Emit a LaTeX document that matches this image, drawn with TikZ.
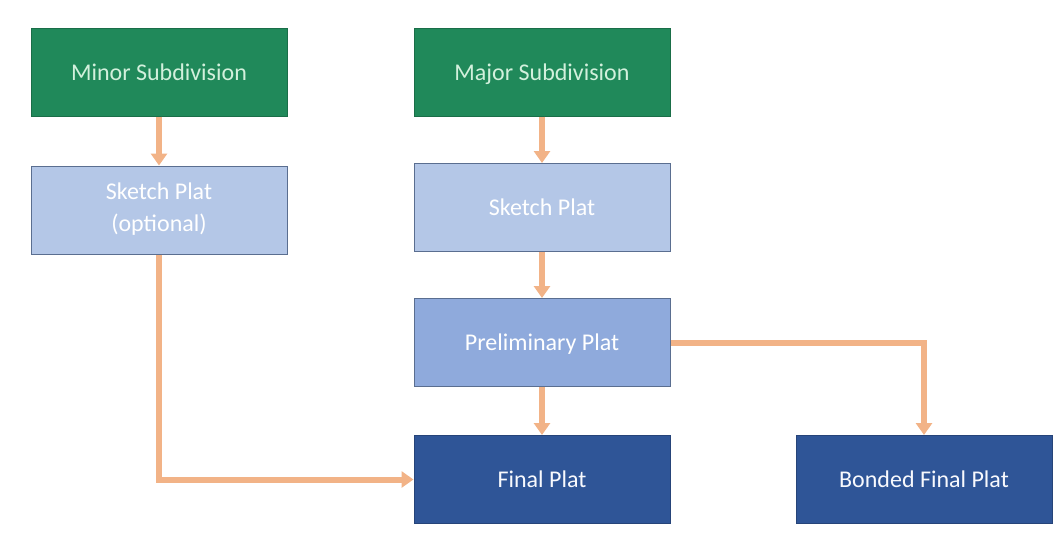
\documentclass[tikz,border=0pt]{standalone}
\usepackage{fontspec}
\setmainfont{Carlito}
\usetikzlibrary{arrows.meta}
\newcommand\boxstrut{\rule[-6pt]{0pt}{28pt}}
\definecolor{grn}{HTML}{20895A}
\definecolor{grnb}{HTML}{1A6E48}
\definecolor{grntxt}{HTML}{D2F0DC}
\definecolor{lblue}{HTML}{B4C7E7}
\definecolor{mblue}{HTML}{8FAADC}
\definecolor{dblue}{HTML}{2F5597}
\definecolor{bord}{HTML}{5A6E90}
\definecolor{arr}{HTML}{F2B387}
\tikzset{
  box/.style={draw=bord, line width=1pt, minimum width=256pt, minimum height=88pt, inner sep=0pt, align=center, font=\fontsize{24}{32}\selectfont, execute at begin node=\boxstrut},
  greenbox/.style={box, fill=grn, draw=grnb, text=grntxt},
  lightbox/.style={box, fill=lblue, text=white},
  midbox/.style={box, fill=mblue, text=white},
  darkbox/.style={box, fill=dblue, draw=dblue!80!black, text=white!90!lblue},
  conn/.style={draw=arr, line width=6pt, -{Triangle[width=16pt,length=12pt]}}
}
\begin{document}
\begin{tikzpicture}[x=1pt,y=-1pt]
\useasboundingbox (0,0) rectangle (1062,536);
\node[greenbox] (minor) at (159,72) {Minor Subdivision};
\node[greenbox] (major) at (542,72) {Major Subdivision};
\node[lightbox] (sk1) at (159,210) {Sketch Plat\\(optional)\boxstrut};
\node[lightbox] (sk2) at (542,207.5) {Sketch Plat};
\node[midbox] (pre) at (542,342.5) {Preliminary Plat};
\node[darkbox] (fin) at (542,479.5) {Final Plat};
\node[darkbox] (bond) at (924,479.5) {Bonded Final Plat};
\draw[conn] (minor) -- (sk1);
\draw[conn] (major) -- (sk2);
\draw[conn] (sk2) -- (pre);
\draw[conn] (pre) -- (fin);
\draw[conn] (sk1.south) |- (fin.west);
\draw[conn] (pre.east) -| (bond.north);
\end{tikzpicture}
\end{document}
